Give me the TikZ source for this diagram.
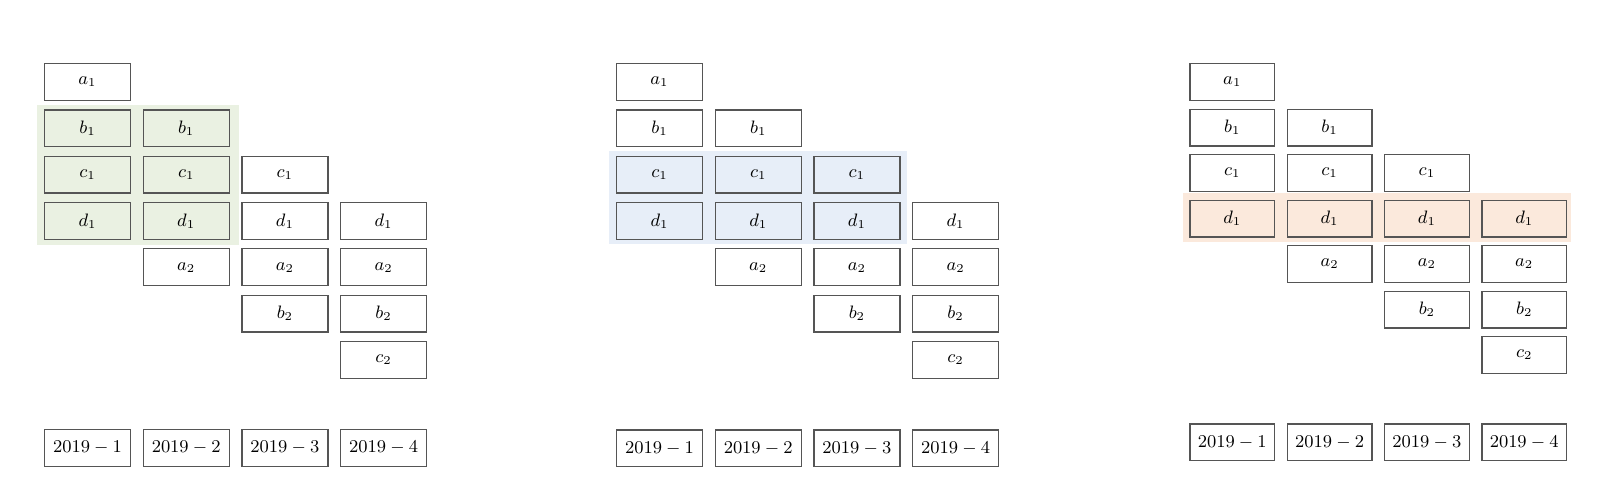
\documentclass[tikz,border=0pt]{standalone}
\usetikzlibrary{backgrounds}
\definecolor{boxgray}{RGB}{85,85,85}
\definecolor{greenbg}{RGB}{234,241,226}
\definecolor{bluebg}{RGB}{231,238,248}
\definecolor{orangebg}{RGB}{251,233,220}
\begin{document}
\begin{tikzpicture}[x=0.5pt,y=-0.5pt,
  cell/.style={draw=boxgray, line width=0.6pt, minimum width=#1, minimum height=18.4pt, inner sep=0pt, font=\fontsize{9.2}{11}\selectfont},
  cell/.default=43pt]
\useasboundingbox (0,0) rectangle (1622,500);
\foreach \p/\xo/\dx/\dy/\w/\dt in {1/87.5/98.7/46.3/43pt/448, 2/659.5/98.7/46.3/43pt/448.3, 3/1232.3/97.3/45.5/42.3pt/442.3}{
  \foreach \c in {1,...,4}{
    \foreach \i in {0,...,3}{
      \pgfmathtruncatemacro\r{\c+\i}
      \pgfmathparse{{"a","b","c","d","a","b","c"}[\r-1]}
      \let\lt\pgfmathresult
      \pgfmathtruncatemacro\sb{\r<5 ? 1 : 2}
      \node[cell=\w] (p\p-\c-\r) at ({\xo+(\c-1)*\dx},{82+(\r-1)*\dy}) {$\lt_{\sb}$};
    }
    \node[cell=\w] (p\p-d\c) at ({\xo+(\c-1)*\dx},\dt) {$2019-\c$};
  }
}
\begin{scope}[on background layer]
  \fill[greenbg] ([xshift=-3.5pt,yshift=2.2pt]p1-1-2.north west) rectangle ([xshift=4.6pt,yshift=-2.5pt]p1-2-4.south east);
  \fill[bluebg] ([xshift=-3.3pt,yshift=2.2pt]p2-1-3.north west) rectangle ([xshift=3.3pt,yshift=-2pt]p2-3-4.south east);
  \fill[orangebg] ([xshift=-3.3pt,yshift=3.3pt]p3-1-4.north west) rectangle ([xshift=2pt,yshift=-2pt]p3-4-4.south east);
\end{scope}
\end{tikzpicture}
\end{document}
